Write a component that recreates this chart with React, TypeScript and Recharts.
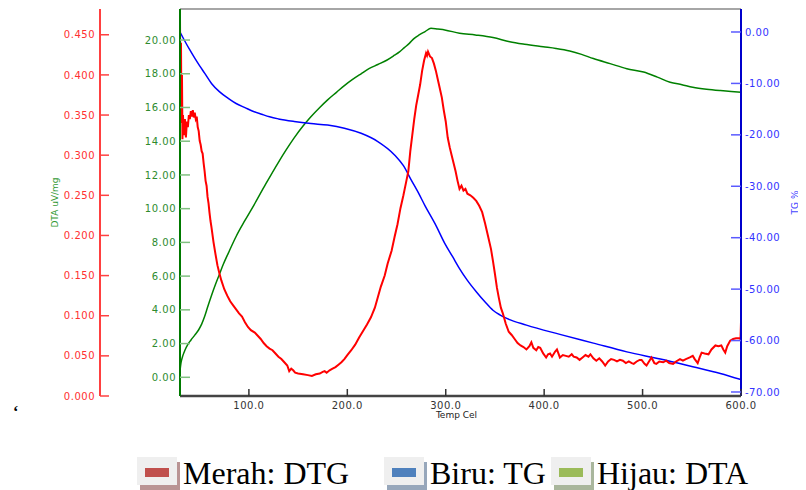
import React from "react";
import { LineChart, Line, XAxis, YAxis, ReferenceLine, Label } from "recharts";

// x axis (Temp Cel)
const tempTicks = [100, 200, 300, 400, 500, 600];
// left red axis (DTG)
const dtgTicks = [0, 0.05, 0.1, 0.15, 0.2, 0.25, 0.3, 0.35, 0.4, 0.45];
// left green axis (DTA uV/mg)
const dtaTicks = [0, 2, 4, 6, 8, 10, 12, 14, 16, 18, 20];
// right blue axis (TG %)
const tgTicks = [0, -10, -20, -30, -40, -50, -60, -70];

// [temp, value]
const tgPoints: [number, number][] = [
  [30, 0.0], [35, -1.8], [40, -3.5], [45, -5.1], [50, -6.6], [55, -8.0], [62, -10.0],
  [70, -11.6], [79, -12.9], [87, -13.9], [96, -14.7], [104, -15.4], [113, -16.0],
  [121, -16.5], [130, -16.9], [146, -17.4], [163, -17.8], [180, -18.1], [197, -18.7],
  [214, -19.7], [231, -21.3], [248, -23.9], [257, -26.0], [265, -28.8], [272, -31.2],
  [279, -33.8], [290, -37.6], [299, -41.1], [307, -43.7], [314, -46.0], [322, -48.3],
  [331, -50.5], [340, -52.5], [348, -54.1], [355, -55.0], [362, -55.7], [382, -57.0],
  [416, -58.8], [450, -60.5], [484, -62.2], [518, -63.6], [551, -65.1], [579, -66.4],
  [600, -67.6],
];

const dtaPoints: [number, number][] = [
  [30, 0.4], [31, 0.85], [33, 1.3], [35, 1.6], [38, 1.95], [41, 2.2], [45, 2.5], [49, 2.82],
  [52, 3.15], [55, 3.6], [58, 4.15], [62, 4.85], [66, 5.5], [70, 6.1], [74, 6.7], [79, 7.35],
  [87, 8.35], [96, 9.3], [105, 10.2], [117, 11.45], [130, 12.75], [138, 13.5], [146, 14.2],
  [155, 14.9], [163, 15.45], [172, 16.0], [180, 16.45], [189, 16.9], [197, 17.3],
  [205, 17.65], [214, 18.0], [222, 18.3], [231, 18.55], [240, 18.8], [248, 19.1],
  [253, 19.3], [258, 19.55], [263, 19.8], [268, 20.1], [273, 20.3], [279, 20.5],
  [285, 20.7], [292, 20.65], [299, 20.6], [314, 20.4], [330, 20.3], [348, 20.15],
  [365, 19.9], [380, 19.75], [399, 19.6], [412, 19.5], [426, 19.35], [438, 19.15],
  [450, 18.9], [467, 18.6], [484, 18.3], [501, 18.1], [515, 17.8], [528, 17.5],
  [540, 17.35], [551, 17.2], [565, 17.08], [579, 17.0], [590, 16.95], [600, 16.9],
];

const dtgPoints: [number, number][] = [
  [30, 0.47], [30.5, 0.36], [31, 0.44], [31.5, 0.34], [32, 0.4], [32.5, 0.32], [33, 0.35],
  [34, 0.325], [35, 0.345], [36, 0.322], [37, 0.342], [38, 0.335], [39, 0.35], [40, 0.345],
  [41, 0.355], [42, 0.348], [43, 0.356], [44, 0.347], [45, 0.353], [46, 0.345], [47, 0.348],
  [48, 0.335], [49, 0.33], [50, 0.318], [51, 0.313], [52, 0.305], [53, 0.302], [54, 0.29],
  [55, 0.28], [56, 0.268], [57, 0.262], [58, 0.248], [59, 0.24], [60, 0.228], [61, 0.218],
  [62, 0.21], [64, 0.192], [66, 0.177], [68, 0.163], [70, 0.153], [72, 0.144], [75, 0.133],
  [78, 0.125], [81, 0.118], [84, 0.113], [87, 0.108], [90, 0.103], [93, 0.099], [96, 0.092],
  [99, 0.086], [102, 0.082], [106, 0.079], [109, 0.075], [112, 0.071], [115, 0.066],
  [118, 0.062], [121, 0.059], [124, 0.057], [127, 0.053], [130, 0.049], [133, 0.046],
  [136, 0.042], [139, 0.038], [141, 0.031], [143, 0.034], [145, 0.032], [147, 0.029],
  [150, 0.028], [155, 0.027], [160, 0.026], [164, 0.025], [168, 0.027], [172, 0.028],
  [175, 0.03], [177, 0.031], [179, 0.029], [182, 0.032], [185, 0.034], [188, 0.036],
  [191, 0.039], [194, 0.042], [197, 0.046], [200, 0.051], [204, 0.057], [208, 0.064],
  [212, 0.073], [216, 0.081], [220, 0.089], [224, 0.098], [228, 0.11], [231, 0.123],
  [234, 0.136], [238, 0.15], [241, 0.165], [245, 0.181], [248, 0.198], [251, 0.214],
  [254, 0.234], [257, 0.25], [260, 0.268], [262, 0.28], [264, 0.305], [266, 0.325],
  [268, 0.345], [270, 0.362], [272, 0.375], [274, 0.388], [276, 0.405], [278, 0.418],
  [280, 0.427], [281, 0.424], [282, 0.429], [284, 0.423], [286, 0.421], [288, 0.414],
  [290, 0.405], [292, 0.394], [294, 0.383], [296, 0.372], [298, 0.356], [300, 0.342],
  [302, 0.322], [304, 0.31], [306, 0.3], [308, 0.29], [310, 0.28], [312, 0.268],
  [314, 0.258], [316, 0.262], [318, 0.256], [320, 0.258], [322, 0.252], [325, 0.25],
  [328, 0.247], [331, 0.243], [334, 0.237], [337, 0.229], [340, 0.215], [343, 0.199],
  [346, 0.183], [348, 0.168], [350, 0.152], [352, 0.135], [354, 0.122], [356, 0.11],
  [358, 0.103], [361, 0.09], [364, 0.08], [367, 0.076], [370, 0.071], [373, 0.066],
  [376, 0.063], [379, 0.061], [382, 0.058], [385, 0.062], [387, 0.067], [389, 0.06],
  [392, 0.057], [394, 0.061], [396, 0.06], [399, 0.053], [402, 0.048], [404, 0.052],
  [406, 0.053], [408, 0.049], [411, 0.055], [413, 0.058], [416, 0.048], [419, 0.051],
  [422, 0.05], [425, 0.049], [428, 0.052], [430, 0.049], [433, 0.048], [436, 0.045],
  [439, 0.048], [442, 0.051], [445, 0.049], [447, 0.052], [450, 0.047], [453, 0.044],
  [456, 0.047], [459, 0.043], [462, 0.038], [465, 0.043], [468, 0.046], [471, 0.045],
  [474, 0.043], [477, 0.045], [480, 0.044], [483, 0.041], [486, 0.043], [489, 0.041],
  [491, 0.04], [494, 0.043], [497, 0.045], [499, 0.045], [502, 0.04], [504, 0.038],
  [507, 0.044], [509, 0.048], [512, 0.041], [514, 0.04], [517, 0.043], [521, 0.042],
  [524, 0.044], [527, 0.041], [531, 0.04], [534, 0.043], [538, 0.046], [541, 0.044],
  [544, 0.046], [548, 0.048], [551, 0.05], [553, 0.046], [556, 0.041], [558, 0.048],
  [560, 0.054], [563, 0.053], [567, 0.052], [570, 0.058], [574, 0.063], [577, 0.062],
  [580, 0.063], [582, 0.058], [584, 0.054], [586, 0.062], [589, 0.069], [592, 0.071],
  [595, 0.072], [598, 0.072], [599.5, 0.071], [600, 0.092],
];

const legendLabels = ["Merah: DTG", "Biru: TG", "Hijau: DTA"];

const tgData = tgPoints.map(([t, v]) => ({ t, tg: v }));
const dtaData = dtaPoints.map(([t, v]) => ({ t, dta: v }));
const dtgData = dtgPoints.map(([t, v]) => ({ t, dtg: v }));

const tickFont = { fontFamily: "DejaVu Sans", fontSize: 10, letterSpacing: 0.5 };
const titleFont = { fontFamily: "DejaVu Sans", fontSize: 9 };

const leftTick = (textColor: string, lineColor: string, len: number, gap: number, digits: number) =>
  (props: any) => {
    const { x, y, payload } = props;
    return (
      <g>
        <line x1={x} x2={x + len} y1={y} y2={y} stroke={lineColor} strokeWidth={1.5} />
        <text x={x - gap} y={y} dy={3.6} textAnchor="end" fill={textColor} {...tickFont}>
          {Number(payload.value).toFixed(digits)}
        </text>
      </g>
    );
  };

const rightTick = (props: any) => {
  const { x, y, payload } = props;
  return (
    <g>
      <line x1={x - 10} x2={x} y1={y} y2={y} stroke="#5a5aff" strokeWidth={1.5} />
      <text x={x + 4} y={y} dy={3.6} textAnchor="start" fill="#3333ff" {...tickFont}>
        {Number(payload.value).toFixed(2)}
      </text>
    </g>
  );
};

const bottomTick = (props: any) => {
  const { x, y, payload } = props;
  return (
    <g>
      <line x1={x} x2={x} y1={y} y2={y - 7} stroke="#333" strokeWidth={1.5} />
      <text x={x} y={y + 13} textAnchor="middle" fill="#333" {...tickFont}>
        {Number(payload.value).toFixed(1)}
      </text>
    </g>
  );
};

const legendStyles = [
  { fill: "#C0504D", shadow: "#b99494", left: 129 },
  { fill: "#4F81BD", shadow: "#97a7bb", left: 376 },
  { fill: "#9BBB59", shadow: "#a9b69c", left: 543 },
];

const Legend = () => (
  <>
    {legendLabels.map((label, i) => (
      <div key={label} style={{ position: "absolute", left: legendStyles[i].left, top: 449, display: "flex", alignItems: "flex-start" }}>
        <div style={{ position: "relative", width: 40, height: 28, background: "#efefef", boxShadow: `3px 5px 0 ${legendStyles[i].shadow}` }}>
          <div style={{ position: "absolute", left: 8, top: 11, width: 24, height: 9, background: legendStyles[i].fill }} />
        </div>
        <span style={{ fontFamily: "Liberation Serif", fontSize: 32, lineHeight: "33px", marginLeft: 6, color: "#000", whiteSpace: "nowrap" }}>
          {label}
        </span>
      </div>
    ))}
  </>
);

export default function App() {
  return (
    <div style={{ position: "relative", width: 798, height: 482 }}>
      <LineChart width={798} height={482} margin={{ top: 1, right: 0, bottom: 64, left: 0 }}>
        <XAxis
          dataKey="t"
          type="number"
          domain={[30, 600]}
          ticks={tempTicks}
          allowDataOverflow
          height={30}
          stroke="#444"
          axisLine={{ stroke: "#444", strokeWidth: 2.5 }}
          tickLine={false}
          tickSize={0}
          tickMargin={0}
          tick={bottomTick}
        >
          <Label
            content={({ viewBox }: any) => (
              <text x={viewBox.x + viewBox.width / 2 - 4} y={viewBox.y + 22} textAnchor="middle" fill="#222" {...titleFont}>
                Temp Cel
              </text>
            )}
          />
        </XAxis>
        <YAxis
          yAxisId="dta"
          orientation="left"
          type="number"
          width={80}
          domain={[-1.109, 21.84]}
          ticks={dtaTicks}
          allowDataOverflow
          axisLine={{ stroke: "#007a00", strokeWidth: 2 }}
          tickLine={false}
          tickSize={0}
          tickMargin={0}
          tick={leftTick("#2e8b2e", "#80c080", 10, 4, 2)}
        />
        <YAxis
          yAxisId="dtg"
          orientation="left"
          type="number"
          width={92}
          domain={[0, 0.4821]}
          ticks={dtgTicks}
          allowDataOverflow
          axisLine={{ stroke: "#ff0000", strokeWidth: 1.5 }}
          tickLine={false}
          tickSize={0}
          tickMargin={0}
          tick={leftTick("#ff3030", "#ff4040", 9, 5, 3)}
        >
          <Label
            content={({ viewBox }: any) => {
              const cx = viewBox.x + 50;
              const cy = viewBox.y + viewBox.height / 2;
              return (
                <text x={cx} y={cy} transform={`rotate(-90 ${cx} ${cy})`} textAnchor="middle" fill="#339933" {...titleFont}>
                  DTA uV/mg
                </text>
              );
            }}
          />
        </YAxis>
        <YAxis
          yAxisId="tg"
          orientation="right"
          type="number"
          width={65}
          domain={[-70.78, 4.47]}
          ticks={tgTicks}
          allowDataOverflow
          axisLine={{ stroke: "#0000cc", strokeWidth: 2 }}
          tickLine={false}
          tickSize={0}
          tickMargin={0}
          tick={rightTick}
        >
          <Label
            content={({ viewBox }: any) => {
              const cx = viewBox.x + 57;
              const cy = viewBox.y + viewBox.height / 2;
              return (
                <text x={cx} y={cy} transform={`rotate(-90 ${cx} ${cy})`} textAnchor="middle" fill="#4444ff" {...titleFont}>
                  TG %
                </text>
              );
            }}
          />
        </YAxis>
        <ReferenceLine yAxisId="dta" y={21.84} stroke="#888" strokeWidth={1.5} />
        <Line data={dtaData} dataKey="dta" yAxisId="dta" type="monotone" stroke="#008000" strokeWidth={1.5} dot={false} activeDot={false} isAnimationActive={false} />
        <Line data={tgData} dataKey="tg" yAxisId="tg" type="monotone" stroke="#0000ff" strokeWidth={1.5} dot={false} activeDot={false} isAnimationActive={false} />
        <Line data={dtgData} dataKey="dtg" yAxisId="dtg" type="linear" stroke="#ff0000" strokeWidth={2} dot={false} activeDot={false} isAnimationActive={false} />
      </LineChart>
      <span style={{ position: "absolute", left: 5, top: 395, fontFamily: "Liberation Serif", fontSize: 16, fontWeight: "bold", color: "#000" }}>‘</span>
      <Legend />
    </div>
  );
}
